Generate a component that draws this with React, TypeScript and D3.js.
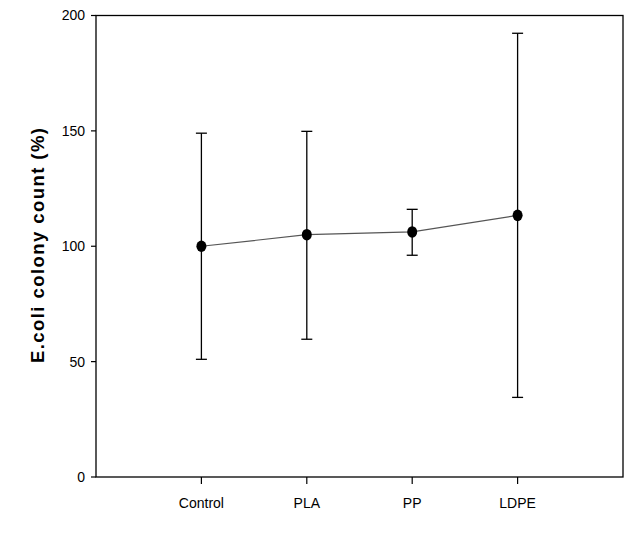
import React from "react";
import * as d3 from "d3";

const categories = ["Control", "PLA", "PP", "LDPE"];
const means = [100, 105, 106.2, 113.4];
const upper = [149, 149.8, 116, 192.3];
const lower = [51, 59.7, 96.1, 34.5];
const yTicks = [0, 50, 100, 150, 200];

export default function App() {
  const W = 634, H = 534;
  const left = 96, right = 623, top = 15.5, bottom = 477;
  const x = d3.scaleLinear().domain([-1, 4]).range([left, right]);
  const y = d3.scaleLinear().domain([0, 200]).range([bottom, top]);
  const line = d3.line<number>().x((_, i) => x(i)).y((d) => y(d));
  const font = "Arial, 'Liberation Sans', sans-serif";
  return (
    <svg width={W} height={H} style={{ position: "absolute", left: 0, top: 0, background: "#fff" }}>
      <rect x={left} y={top} width={right - left} height={bottom - top} fill="none" stroke="#000" strokeWidth={1.3} />
      {yTicks.map((t) => (
        <g key={t}>
          <line x1={left - 5} x2={left} y1={y(t)} y2={y(t)} stroke="#000" strokeWidth={1.2} />
          <text x={left - 11} y={y(t)} dy="0.35em" textAnchor="end" fontFamily={font} fontSize={14}>{t}</text>
        </g>
      ))}
      {categories.map((c, i) => (
        <g key={c}>
          <line x1={x(i)} x2={x(i)} y1={bottom} y2={bottom + 7} stroke="#000" strokeWidth={1.2} />
          <text x={x(i)} y={bottom + 31} textAnchor="middle" fontFamily={font} fontSize={14}>{c}</text>
        </g>
      ))}
      <text transform={`translate(44,245.5) rotate(-90)`} textAnchor="middle" fontFamily={font} fontSize={18.5} fontWeight="bold" textLength={235} lengthAdjust="spacing">E.coli colony count (%)</text>
      <path d={line(means) || ""} fill="none" stroke="#555" strokeWidth={1.2} />
      {categories.map((c, i) => (
        <g key={c + "e"} stroke="#000" strokeWidth={1.3}>
          <line x1={x(i)} x2={x(i)} y1={y(upper[i])} y2={y(lower[i])} />
          <line x1={x(i) - 5.5} x2={x(i) + 5.5} y1={y(upper[i])} y2={y(upper[i])} />
          <line x1={x(i) - 5.5} x2={x(i) + 5.5} y1={y(lower[i])} y2={y(lower[i])} />
        </g>
      ))}
      {means.map((m, i) => (
        <ellipse key={i} cx={x(i)} cy={y(m)} rx={5} ry={5.8} fill="#000" />
      ))}
    </svg>
  );
}
